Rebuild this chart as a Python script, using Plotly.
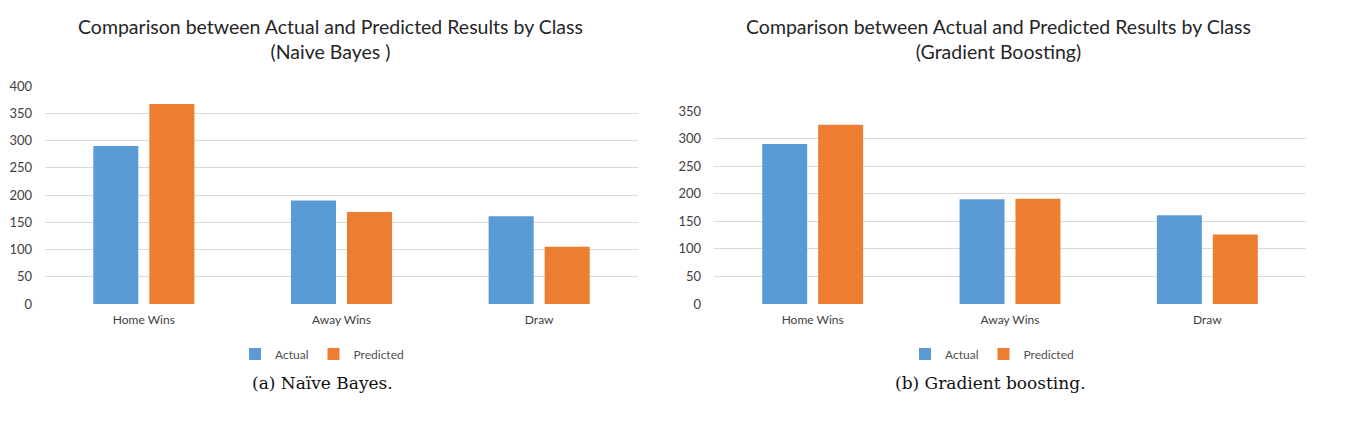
import plotly.graph_objects as go

categories = ["Home Wins", "Away Wins", "Draw"]
series_names = ["Actual", "Predicted"]
nb_actual = [290, 190, 161]
nb_predicted = [367, 169, 105]
gb_actual = [290, 190, 161]
gb_predicted = [325, 191, 126]
nb_ticks = [0, 50, 100, 150, 200, 250, 300, 350, 400]
gb_ticks = [0, 50, 100, 150, 200, 250, 300, 350]
titles = [
    "Comparison between Actual and Predicted Results by Class<br>(Naive Bayes )",
    "Comparison between Actual and Predicted Results by Class<br>(Gradient Boosting)",
]
captions = ["(a) Naïve Bayes.", "(b) Gradient boosting."]

W, H = 1352, 423
BLUE = "#5B9BD5"
ORANGE = "#ED7D31"
GRID = "#D9D9D9"
TICK = "#404040"
FONT = "Lato, 'Open Sans', sans-serif"

# observed rendering: vertical frame starts ~8px down and spans ~407px
Y0, HR = 8.0, 407.0


def fx(p):
    return p / W


def fy(p):
    return 1 - (p - Y0) / HR


fig = go.Figure()
for vals, col, nm in [(nb_actual, BLUE, series_names[0]), (nb_predicted, ORANGE, series_names[1])]:
    fig.add_trace(go.Bar(x=categories, y=vals, name=nm, marker=dict(color=col, line=dict(width=0)),
                         xaxis="x", yaxis="y", legend="legend"))
for vals, col, nm in [(gb_actual, BLUE, series_names[0]), (gb_predicted, ORANGE, series_names[1])]:
    fig.add_trace(go.Bar(x=categories, y=vals, name=nm, marker=dict(color=col, line=dict(width=0)),
                         xaxis="x2", yaxis="y2", legend="legend2"))

axis_common_y = dict(showgrid=True, gridcolor=GRID, gridwidth=1.3, zeroline=False, showline=False,
                     tickfont=dict(family=FONT, size=13, color=TICK), ticks="", ticklabelstandoff=12)
axis_common_x = dict(showgrid=False, zeroline=False, showline=False, ticks="", ticklabelstandoff=7,
                     tickfont=dict(family=FONT, size=12, color=TICK))

fig.update_layout(
    width=W, height=H, autosize=False,
    margin=dict(l=0, r=0, t=0, b=0),
    paper_bgcolor="white", plot_bgcolor="white",
    barmode="group", bargap=0.433, bargroupgap=0.196,
    font=dict(family=FONT, color=TICK),
    xaxis=dict(domain=[fx(45), fx(638)], anchor="y", **axis_common_x),
    yaxis=dict(domain=[fy(304), fy(86)], range=[0, 400], tickvals=nb_ticks, anchor="x", **axis_common_y),
    xaxis2=dict(domain=[fx(714), fx(1306)], anchor="y2", **axis_common_x),
    yaxis2=dict(domain=[fy(304), fy(111)], range=[0, 350], tickvals=gb_ticks, anchor="x2", **axis_common_y),
    legend=dict(orientation="h", x=fx(322), xanchor="center", y=fy(354), yanchor="middle",
                font=dict(family=FONT, size=12, color="#505050"), itemwidth=30, bgcolor="rgba(0,0,0,0)"),
    legend2=dict(orientation="h", x=fx(992), xanchor="center", y=fy(354), yanchor="middle",
                 font=dict(family=FONT, size=12, color="#505050"), itemwidth=30, bgcolor="rgba(0,0,0,0)"),
)

for cx, t in zip([330, 998], titles):
    fig.add_annotation(text=t, x=fx(cx), y=fy(39), xref="paper", yref="paper",
                       xanchor="center", yanchor="middle", showarrow=False,
                       font=dict(family=FONT, size=19.5, color="#262626"))
for cx, t in zip([322, 990], captions):
    fig.add_annotation(text=t, x=fx(cx), y=fy(383), xref="paper", yref="paper",
                       xanchor="center", yanchor="middle", showarrow=False,
                       font=dict(family="'DejaVu Serif', serif", size=17, color="#111111"))

post = ("document.documentElement.style.margin='0';document.body.style.margin='0';"
        "document.body.style.padding='0';document.body.style.overflow='hidden';")
fig.write_html("out.html", post_script=post, default_width="1352px", default_height="423px",
               config={"displayModeBar": False})
